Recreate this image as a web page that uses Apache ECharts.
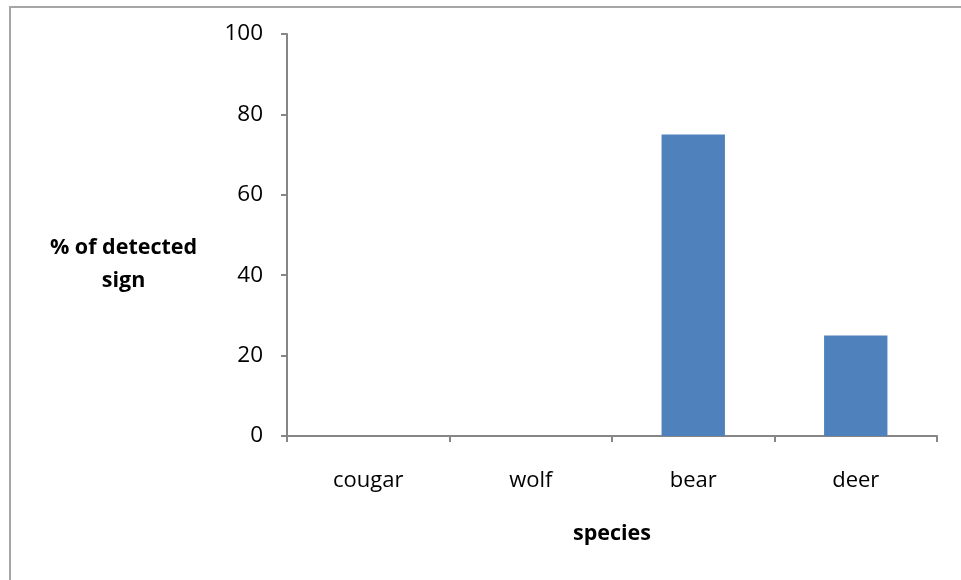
<!DOCTYPE html>
<html><head><meta charset="utf-8">
<script src="https://cdn.jsdelivr.net/npm/echarts@6/dist/echarts.min.js"></script>
<style>html,body{margin:0;padding:0;background:#fff}#c{width:961px;height:580px}</style>
</head><body><div id="c"></div>
<script>
const categories = ['cougar', 'wolf', 'bear', 'deer'];
const values = [0, 0, 75, 25];
const yTicks = [0, 20, 40, 60, 80, 100];

const chart = echarts.init(document.getElementById('c'));
const font = 'Open Sans';
chart.setOption({
  animation: false,
  backgroundColor: '#fff',
  graphic: [
    { type: 'rect', shape: { x: 10, y: 7, width: 1000, height: 1000 },
      style: { fill: 'none', stroke: '#a6a6a6', lineWidth: 2 }, silent: true },
    { type: 'text', left: 46, top: 231,
      style: { text: '% of detected\nsign', fontFamily: font, fontWeight: 'bold', fontSize: 21.5,
               fill: '#000', textAlign: 'center', lineHeight: 33, width: 155 } },
    { type: 'text', left: 573, top: 523,
      style: { text: 'species', fontFamily: font, fontWeight: 'bold', fontSize: 21.5, fill: '#000' } }
  ],
  grid: { left: 287, right: 24, top: 34, bottom: 144, containLabel: false },
  xAxis: {
    type: 'category', data: categories,
    axisLine: { lineStyle: { color: '#868686', width: 2 } },
    axisTick: { show: true, alignWithLabel: false, length: 6, lineStyle: { color: '#868686', width: 2 } },
    axisLabel: { fontFamily: font, fontSize: 22, color: '#000', margin: 34 }
  },
  yAxis: {
    type: 'value', min: 0, max: 100, interval: 20,
    axisLine: { show: true, lineStyle: { color: '#868686', width: 2 } },
    axisTick: { show: true, length: 6, lineStyle: { color: '#868686', width: 2 } },
    splitLine: { show: false },
    axisLabel: { fontFamily: font, fontSize: 22.5, color: '#000', margin: 24 }
  },
  series: [{
    type: 'bar', data: values, barWidth: '39%',
    itemStyle: { color: '#4F81BD' }
  }]
});
</script></body></html>
